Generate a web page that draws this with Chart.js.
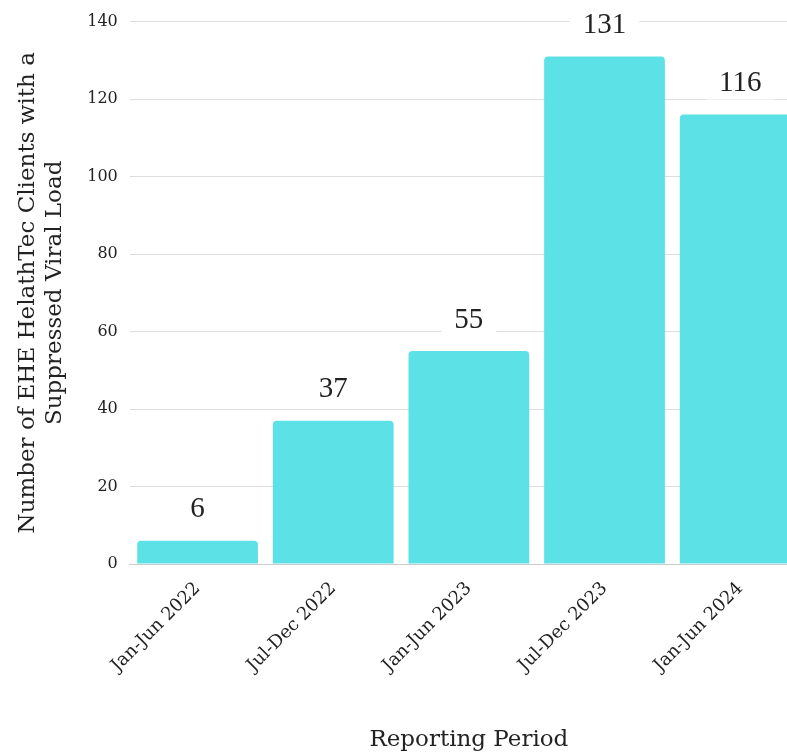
<!DOCTYPE html>
<html>
<head>
<meta charset="utf-8">
<script src="https://cdn.jsdelivr.net/npm/chart.js@4"></script>
<style>
  html, body { margin: 0; padding: 0; background: #fff; overflow: hidden; }
  .wrap { width: 822px; height: 755px; position: relative; }
</style>
</head>
<body>
<div class="wrap"><canvas id="chart"></canvas></div>
<script>
const periods = ['Jan-Jun 2022', 'Jul-Dec 2022', 'Jan-Jun 2023', 'Jul-Dec 2023', 'Jan-Jun 2024'];
const suppressed = [6, 37, 55, 131, 116];
const yTitle = ['Number of EHE HelathTec Clients with a', 'Suppressed Viral Load'];
const xTitle = 'Reporting Period';

const serif = "'DejaVu Serif', serif";

// value labels on a white box so they cut through the gridlines
const valueLabels = {
  id: 'valueLabels',
  afterDatasetsDraw(chart) {
    const ctx = chart.ctx;
    const meta = chart.getDatasetMeta(0);
    ctx.save();
    ctx.font = "29px 'Liberation Serif', serif";
    ctx.textAlign = 'center';
    ctx.textBaseline = 'middle';
    meta.data.forEach((bar, i) => {
      const text = String(suppressed[i]);
      const y = bar.y - 31;
      const w = ctx.measureText(text).width + 26;
      ctx.fillStyle = '#fff';
      ctx.fillRect(bar.x - w / 2, y - 16, w, 32);
      ctx.fillStyle = '#222';
      ctx.fillText(text, bar.x, y);
    });
    ctx.restore();
  }
};

new Chart(document.getElementById('chart'), {
  type: 'bar',
  data: {
    labels: periods,
    datasets: [{
      data: suppressed,
      backgroundColor: '#5ce1e6',
      borderRadius: 4,
      borderSkipped: 'bottom',
      categoryPercentage: 0.89,
      barPercentage: 1
    }]
  },
  options: {
    responsive: true,
    maintainAspectRatio: false,
    animation: false,
    layout: { padding: { top: 10, left: 10, right: 14, bottom: 1 } },
    plugins: {
      legend: { display: false },
      tooltip: { enabled: false }
    },
    scales: {
      x: {
        grid: { display: false },
        border: { display: true, color: '#ccc' },
        ticks: {
          color: '#222',
          font: { family: serif, size: 18 },
          minRotation: 45,
          maxRotation: 45,
          padding: 6
        },
        title: {
          display: true,
          text: xTitle,
          color: '#222',
          font: { family: serif, size: 23 },
          padding: { top: 44, bottom: 0 }
        }
      },
      y: {
        min: 0,
        max: 140,
        ticks: {
          stepSize: 20,
          color: '#222',
          font: { family: serif, size: 16 },
          padding: 12
        },
        grid: { color: '#dddddd', drawTicks: false },
        border: { display: false },
        title: {
          display: true,
          text: yTitle,
          color: '#222',
          font: { family: serif, size: 23, lineHeight: 1.2 },
          padding: { bottom: 6 }
        }
      }
    }
  },
  plugins: [valueLabels]
});
</script>
</body>
</html>
